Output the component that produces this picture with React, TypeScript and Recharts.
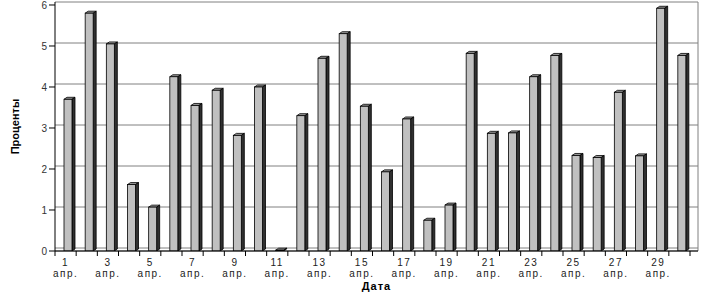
import { BarChart, Bar, XAxis, YAxis, CartesianGrid } from 'recharts';

const days = [
  '1', '2', '3', '4', '5', '6', '7', '8', '9', '10',
  '11', '12', '13', '14', '15', '16', '17', '18', '19', '20',
  '21', '22', '23', '24', '25', '26', '27', '28', '29', '30',
];
const percents = [
  3.7, 5.8, 5.05, 1.62, 1.07, 4.25, 3.55, 3.92, 2.82, 4.0,
  0.02, 3.3, 4.7, 5.3, 3.53, 1.93, 3.22, 0.75, 1.12, 4.82,
  2.87, 2.88, 4.25, 4.77, 2.33, 2.28, 3.87, 2.32, 5.92, 4.77,
];
const yTicks = [0, 1, 2, 3, 4, 5, 6];
const monthLabel = 'апр.';

const data = days.map((d, i) => ({ day: d, value: percents[i] }));

const W = 711;
const H = 295;
const M = { top: 2, right: 13, bottom: 14, left: 25 };
const Y_AXIS_W = 30;
const X_PAD_RIGHT = 8;
const PLOT_X0 = M.left + Y_AXIS_W;
const PLOT_X1 = W - M.right - X_PAD_RIGHT;
const BAND = (PLOT_X1 - PLOT_X0) / days.length;
const FONT = 'Arial, "Liberation Sans", sans-serif';

// 3D-ish bar: grey face, dark side, lighter top
const Bar3D = (props: any) => {
  const { x, y, width, height } = props;
  if (x == null || y == null) return null;
  const fx = x + width / 2 - 1.5;
  const fw = 8;
  const d = 3;
  const h = Math.max(height, 0.5);
  return (
    <g>
      <polygon
        points={`${fx},${y} ${fx + d},${y - 2} ${fx + fw + d},${y - 2} ${fx + fw},${y}`}
        fill="#9a9a9a"
        stroke="#000"
        strokeWidth={0.8}
      />
      <polygon
        points={`${fx + fw},${y} ${fx + fw + d},${y - 2} ${fx + fw + d},${y + h - 2} ${fx + fw},${y + h}`}
        fill="#303030"
        stroke="#000"
        strokeWidth={0.8}
      />
      <rect x={fx} y={y} width={fw} height={h} fill="#c0c0c0" stroke="#000" strokeWidth={0.8} />
    </g>
  );
};

const DayTick = (props: any) => {
  const { x, y, payload, index } = props;
  const left = x - BAND / 2;
  const right = x + BAND / 2;
  return (
    <g>
      <line x1={left} y1={y} x2={left} y2={y + 5} stroke="#000" />
      {index === days.length - 1 && <line x1={right} y1={y} x2={right} y2={y + 5} stroke="#000" />}
      {index % 2 === 0 && (
        <text textAnchor="middle" fontFamily={FONT} fontSize={10} fill="#222" letterSpacing={1.5}>
          <tspan x={x} y={y + 15}>{payload.value}</tspan>
          <tspan x={x} y={y + 26}>{monthLabel}</tspan>
        </text>
      )}
    </g>
  );
};

export default function App() {
  return (
    <div style={{ width: W, height: H, background: '#fff' }}>
      <style>{'body{margin:0}'}</style>
      <BarChart width={W} height={H} data={data} margin={M} barCategoryGap={0}>
        <CartesianGrid
          yAxisId="grid"
          vertical={true}
          verticalPoints={[W - M.right]}
          stroke="#808080"
          strokeWidth={1}
        />
        <XAxis
          dataKey="day"
          height={30}
          interval={0}
          padding={{ left: 0, right: X_PAD_RIGHT }}
          tickLine={false}
          tickSize={0}
          tickMargin={0}
          axisLine={{ stroke: '#000' }}
          tick={<DayTick />}
          label={{
            value: 'Дата',
            position: 'insideBottom',
            offset: -9,
            style: { fontFamily: FONT, fontSize: 11, fontWeight: 'bold', fill: '#000', letterSpacing: 1 },
          }}
        />
        <YAxis
          width={Y_AXIS_W}
          domain={[0, 6.073]}
          ticks={yTicks}
          allowDataOverflow
          axisLine={{ stroke: '#000' }}
          tickLine={{ stroke: '#000' }}
          tickSize={6}
          tick={{ fontFamily: FONT, fontSize: 10, fill: '#333' }}
          label={{
            value: 'Проценты',
            angle: -90,
            position: 'insideLeft',
            offset: -10,
            style: {
              fontFamily: '"Liberation Sans Narrow", Arial, sans-serif',
              fontSize: 11,
              fontWeight: 'bold',
              fill: '#000',
              textAnchor: 'middle',
            },
          }}
        />
        <YAxis yAxisId="grid" hide domain={[-0.073, 6]} ticks={yTicks} allowDataOverflow />
        <Bar dataKey="value" shape={<Bar3D />} isAnimationActive={false} />
      </BarChart>
    </div>
  );
}
